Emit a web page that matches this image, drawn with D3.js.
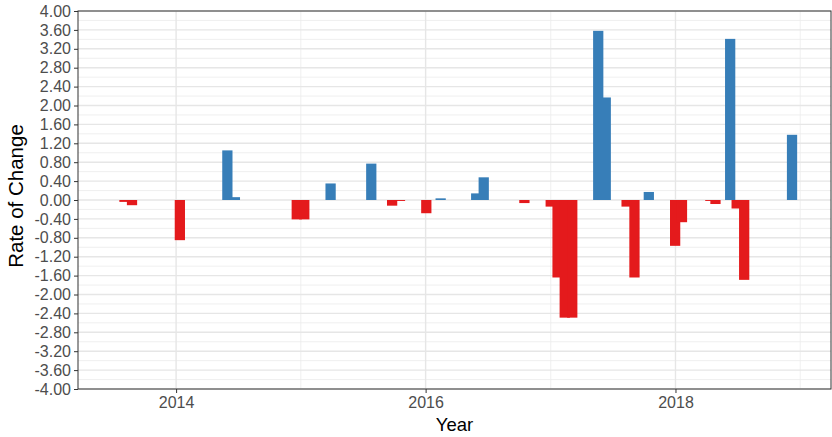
<!DOCTYPE html>
<html>
<head>
<meta charset="utf-8">
<script src="https://cdn.jsdelivr.net/npm/d3@7"></script>
<style>
  body { margin: 0; background: #fff; }
  text { font-family: "Liberation Sans", Arial, sans-serif; }
</style>
</head>
<body>
<div id="chart"></div>
<script>
const dates = [
  "2013-08-03", "2013-08-25", "2014-01-12", "2014-05-31", "2014-06-22",
  "2014-12-20", "2015-01-11", "2015-03-29", "2015-07-26", "2015-09-25",
  "2015-10-18", "2016-01-03", "2016-02-14", "2016-05-28", "2016-06-19",
  "2016-10-16", "2017-01-01", "2017-01-21", "2017-02-11", "2017-03-05",
  "2017-05-20", "2017-06-11", "2017-08-11", "2017-09-03", "2017-10-15",
  "2017-12-31", "2018-01-20", "2018-04-13", "2018-04-28", "2018-06-10",
  "2018-06-29", "2018-07-21", "2018-12-08"
];
const values = [
  -0.04, -0.11, -0.85, 1.05, 0.06,
  -0.41, -0.41, 0.35, 0.77, -0.12,
  -0.02, -0.28, 0.035, 0.14, 0.48,
  -0.065, -0.14, -1.64, -2.49, -2.49,
  3.58, 2.17, -0.14, -1.64, 0.17,
  -0.97, -0.47, -0.02, -0.085, 3.41,
  -0.18, -1.69, 1.38
];
const yTicks = d3.range(-4, 4.001, 0.4);
const yMinor = d3.range(-3.8, 3.9, 0.4);
const xTickYears = [2014, 2016, 2018];
const xMinorYears = [2015, 2017, 2019];

const W = 832, H = 437;
const margin = { top: 11, right: 1, bottom: 48, left: 78 };
const width = W - margin.left - margin.right;
const height = H - margin.top - margin.bottom;

const parse = d3.timeParse("%Y-%m-%d");
const data = dates.map((d, i) => ({ date: parse(d), value: values[i] }));

const svg = d3.select("#chart").append("svg")
  .attr("width", W)
  .attr("height", H);
const g = svg.append("g")
  .attr("transform", `translate(${margin.left},${margin.top})`);

const x = d3.scaleTime()
  .domain([new Date(2013, 2, 20), new Date(2019, 3, 1)])
  .range([0, width]);
const y = d3.scaleLinear()
  .domain([-4, 4])
  .range([height, 0]);

// grid lines
g.selectAll(".y-minor").data(yMinor).join("line")
  .attr("x1", 0).attr("x2", width)
  .attr("y1", d => y(d)).attr("y2", d => y(d))
  .attr("stroke", "#ebebeb").attr("stroke-width", 0.8);
g.selectAll(".x-minor").data(xMinorYears).join("line")
  .attr("x1", d => x(new Date(d, 0, 1))).attr("x2", d => x(new Date(d, 0, 1)))
  .attr("y1", 0).attr("y2", height)
  .attr("stroke", "#ebebeb").attr("stroke-width", 0.8);
g.selectAll(".y-major").data(yTicks).join("line")
  .attr("x1", 0).attr("x2", width)
  .attr("y1", d => y(d)).attr("y2", d => y(d))
  .attr("stroke", "#e6e6e6").attr("stroke-width", 1.4);
g.selectAll(".x-major").data(xTickYears).join("line")
  .attr("x1", d => x(new Date(d, 0, 1))).attr("x2", d => x(new Date(d, 0, 1)))
  .attr("y1", 0).attr("y2", height)
  .attr("stroke", "#e6e6e6").attr("stroke-width", 1.4);

// bars, 30 days wide, centred on each date
const halfW = 15 * 24 * 3600 * 1000;
g.selectAll(".bar").data(data).join("rect")
  .attr("class", "bar")
  .attr("x", d => x(new Date(d.date.getTime() - halfW)))
  .attr("width", d => x(new Date(d.date.getTime() + halfW)) - x(new Date(d.date.getTime() - halfW)))
  .attr("y", d => y(Math.max(0, d.value)))
  .attr("height", d => Math.abs(y(d.value) - y(0)))
  .attr("fill", d => d.value < 0 ? "#e41a1c" : "#377eb8");

// panel border
g.append("rect")
  .attr("width", width).attr("height", height)
  .attr("fill", "none")
  .attr("stroke", "#333").attr("stroke-width", 1);

// axes
const yAxis = g.append("g")
  .call(d3.axisLeft(y).tickValues(yTicks).tickFormat(d3.format(".2f")).tickSize(4).tickPadding(3));
const xAxis = g.append("g")
  .attr("transform", `translate(0,${height})`)
  .call(d3.axisBottom(x).tickValues(xTickYears.map(d => new Date(d, 0, 1)))
    .tickFormat(d3.timeFormat("%Y")).tickSize(4).tickPadding(4));
[yAxis, xAxis].forEach(a => {
  a.select(".domain").remove();
  a.selectAll(".tick line").attr("stroke", "#333");
  a.selectAll(".tick text").attr("fill", "#4d4d4d").style("font-size", "16px");
});
yAxis.selectAll(".tick text").text(d => d3.format(".2f")(d).replace("−", "-"));

// axis titles
svg.append("text")
  .attr("x", margin.left + width / 2)
  .attr("y", 431)
  .attr("text-anchor", "middle")
  .style("font-size", "18.5px")
  .text("Year");
svg.append("text")
  .attr("transform", `translate(23,${margin.top + height / 2 - 4}) rotate(-90)`)
  .attr("text-anchor", "middle")
  .style("font-size", "20.5px")
  .text("Rate of Change");
</script>
</body>
</html>
